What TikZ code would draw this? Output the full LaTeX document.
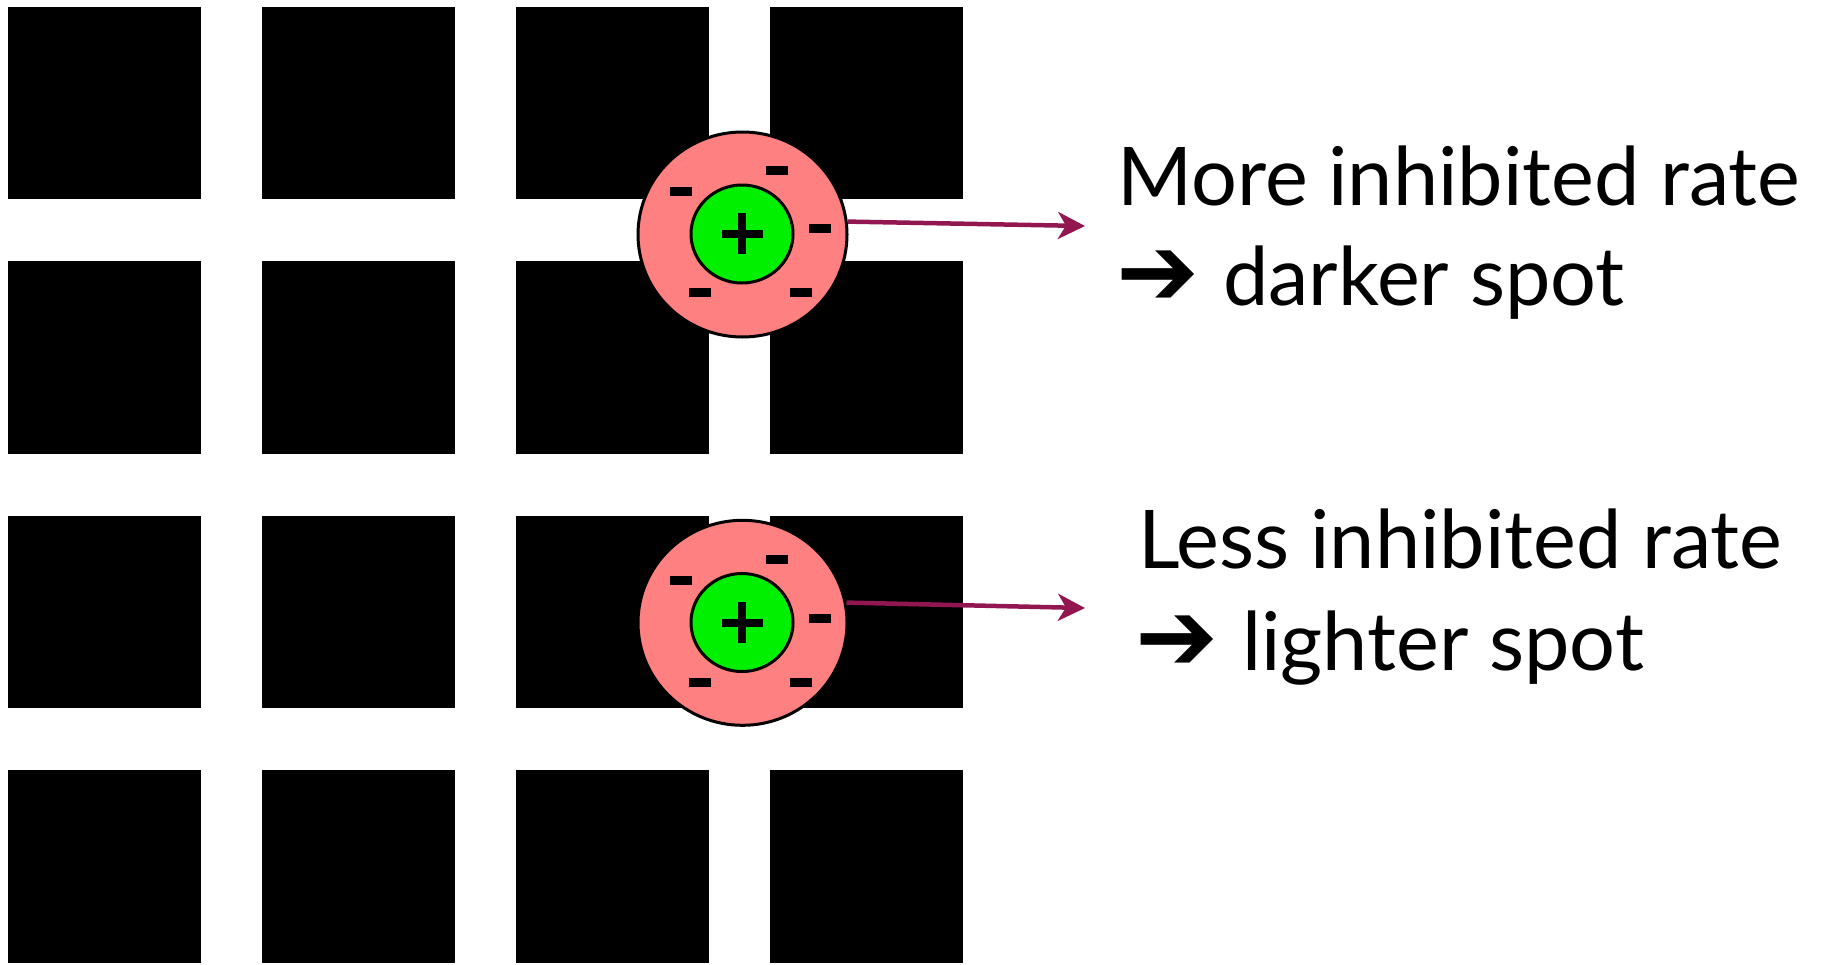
\documentclass[tikz,border=0pt]{standalone}
\usepackage{fontspec}
\setmainfont{Lato}
\newfontfamily\symfont{DejaVu Sans}
\usetikzlibrary{arrows.meta,shapes.geometric}
\definecolor{rfpink}{RGB}{255,128,128}
\definecolor{rfgreen}{RGB}{0,240,0}
\definecolor{arrowmag}{RGB}{146,22,80}
\newcommand{\bigarrow}{\makebox[107pt][l]{\symfont\fontsize{99}{99}\selectfont ➔}}
\begin{document}
\begin{tikzpicture}[x=1pt,y=-1pt,
  sq/.style={fill=black},
  surround/.style={ellipse, draw=black, line width=3pt, fill=rfpink, minimum width=209pt, minimum height=205pt, inner sep=0pt},
  centre/.style={ellipse, draw=black, line width=3pt, fill=rfgreen, minimum width=102pt, minimum height=98pt, inner sep=0pt},
  minusbar/.style={rectangle, fill=black, minimum width=22pt, minimum height=9pt, inner sep=0pt},
  plusbarh/.style={rectangle, fill=black, minimum width=41pt, minimum height=8pt, inner sep=0pt},
  plusbarv/.style={rectangle, fill=black, minimum width=8pt, minimum height=41pt, inner sep=0pt},
  conn/.style={draw=arrowmag, line width=4.5pt, -{Stealth[length=27pt, width=27pt, inset=8pt]}},
  label/.style={anchor=base west, inner sep=0pt, font=\fontsize{81}{97}\selectfont}
]
\useasboundingbox (0,0) rectangle (1822,964);
\foreach \i in {0,1,2,3}
  \foreach \j in {0,1,2,3}
    \fill[sq] (8+254.1*\i, 6.5+254.5*\j) rectangle ++(192.6,192.8);

% upper receptive field
\node[surround] (s1) at (742.5,234.5) {};
\node[centre] (c1) at (742,234) {};
\node[plusbarh] (p1h) at (742,233.5) {};
\node[plusbarv] (p1v) at (742,233.5) {};
\node[minusbar] (m1a) at (681,191.5) {};
\node[minusbar] (m1b) at (777,170.5) {};
\node[minusbar] (m1c) at (820,228.5) {};
\node[minusbar] (m1d) at (700,292.5) {};
\node[minusbar] (m1e) at (801,292.5) {};

% lower receptive field
\node[surround] (s2) at (742.5,622.8) {};
\node[centre] (c2) at (742,622.5) {};
\node[plusbarh] (p2h) at (742,622.5) {};
\node[plusbarv] (p2v) at (742,622.5) {};
\node[minusbar] (m2a) at (681,580.5) {};
\node[minusbar] (m2b) at (777,559.5) {};
\node[minusbar] (m2c) at (820,618.5) {};
\node[minusbar] (m2d) at (700,682.5) {};
\node[minusbar] (m2e) at (801,682.5) {};

% labels
\node[label] (t1a) at (1117,205) {More inhibited rate};
\node[label] (t1b) at (1116,305) {\bigarrow darker spot};
\node[label] (t2a) at (1138,568) {Less inhibited rate};
\node[label] (t2b) at (1135,670) {\bigarrow lighter spot};

% connectors
\coordinate (e1) at (1085,226);
\coordinate (e2) at (1085,608);
\draw[conn] (s1.7) -- (e1);
\draw[conn] (s2.11) -- (e2);
\end{tikzpicture}
\end{document}
